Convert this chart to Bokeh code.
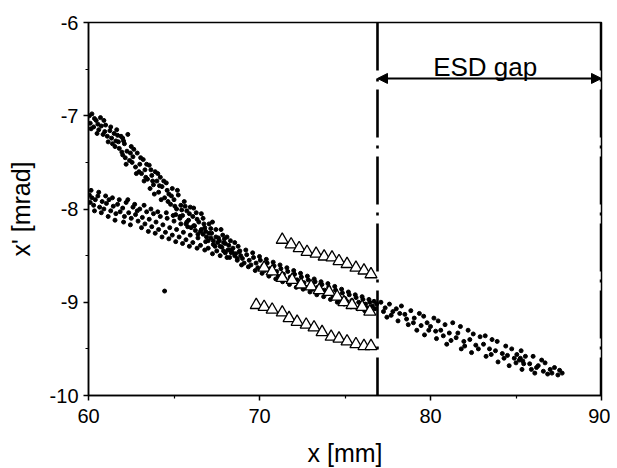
from bokeh.plotting import figure
from bokeh.models import Span, Arrow, NormalHead, Label, FixedTicker, ColumnDataSource
from bokeh.embed import file_html
from bokeh.resources import INLINE

# ---------------- data ----------------
# upper branch of the simulated beam (dots), x [mm], x' [mrad]
upper_band = [
    (60.05, -7.00), (60.1, -7.08), (60.2, -6.98), (60.3, -7.12), (60.45, -7.05),
    (60.6, -7.15), (60.7, -7.02), (60.85, -7.20), (61.0, -7.10), (61.1, -7.22),
    (61.25, -7.16), (61.4, -7.30), (61.5, -7.19), (61.6, -7.27), (61.8, -7.35),
    (61.9, -7.22), (62.0, -7.42), (62.1, -7.30), (62.25, -7.38), (62.4, -7.48),
    (62.5, -7.33), (62.6, -7.44), (62.75, -7.55), (62.85, -7.40), (63.0, -7.52),
    (63.1, -7.62), (63.2, -7.47), (63.3, -7.58), (63.45, -7.68), (63.55, -7.53),
    (63.7, -7.64), (63.8, -7.74), (63.9, -7.60), (64.0, -7.70), (64.1, -7.82),
    (64.2, -7.66), (64.3, -7.76), (64.45, -7.88), (64.55, -7.72), (64.7, -7.84),
    (64.8, -7.95), (64.9, -7.78), (65.0, -7.90), (65.15, -8.00), (65.25, -7.85),
    (65.4, -7.96), (65.5, -8.07), (65.6, -7.92), (65.75, -8.02), (65.85, -8.12),
    (65.95, -7.98), (66.1, -8.08), (66.2, -8.18), (66.3, -8.04), (66.45, -8.14),
    (66.55, -8.24), (66.7, -8.10), (66.8, -8.20), (66.9, -8.30), (67.05, -8.16),
    (67.2, -8.26), (67.3, -8.34), (67.45, -8.22), (67.6, -8.31), (67.7, -8.40),
    (67.85, -8.28), (68.0, -8.37), (68.15, -8.44), (68.3, -8.34), (68.45, -8.42),
    (68.6, -8.48), (68.75, -8.40), (68.9, -8.50), (62.3, -7.20), (61.7, -7.21),
    (62.0, -7.24), (60.15, -7.14), (60.55, -7.09), (60.95, -7.17), (61.35, -7.24),
    (61.75, -7.28), (62.15, -7.45), (62.55, -7.50), (62.95, -7.60), (63.35, -7.66),
    (63.75, -7.70), (64.15, -7.75), (64.6, -7.80), (65.05, -7.97), (65.45, -8.01),
    (65.9, -8.05), (66.35, -8.11), (66.75, -8.16), (67.15, -8.21), (67.55, -8.36),
    (67.95, -8.32), (68.35, -8.47), (68.8, -8.46),
    (60.35, -7.03), (60.5, -7.19), (60.75, -7.11), (60.9, -7.05), (61.15, -7.28),
    (61.3, -7.12), (61.55, -7.33), (61.65, -7.15), (61.95, -7.39), (62.05, -7.27),
    (62.2, -7.52), (62.45, -7.40), (62.65, -7.36), (62.8, -7.62), (63.05, -7.45),
    (63.25, -7.70), (63.4, -7.52), (63.6, -7.78), (63.65, -7.58), (63.85, -7.84),
    (64.05, -7.62), (64.25, -7.90), (64.4, -7.70), (64.65, -7.92), (64.85, -7.86),
    (65.1, -8.06), (65.2, -7.80), (65.35, -8.08), (65.65, -7.97), (65.7, -8.16),
    (66.0, -8.20), (66.15, -7.99), (66.4, -8.27), (66.6, -8.05), (66.85, -8.24),
    (67.0, -8.34), (67.25, -8.14), (67.4, -8.40), (67.75, -8.22), (67.9, -8.45),
    (68.1, -8.30), (68.25, -8.52), (68.55, -8.36), (68.7, -8.53),
]

# lower branch of the simulated beam (dots)
lower_band = [
    (60.05, -7.85), (60.1, -7.93), (60.2, -7.88), (60.3, -7.96), (60.4, -7.90),
    (60.55, -7.86), (60.65, -7.98), (60.8, -7.92), (60.9, -8.00), (61.05, -7.94),
    (61.2, -7.90), (61.3, -8.02), (61.45, -7.97), (61.6, -8.05), (61.7, -7.95),
    (61.85, -8.03), (62.0, -7.99), (62.1, -8.08), (62.2, -7.93), (62.35, -8.04),
    (62.5, -8.10), (62.6, -7.98), (62.75, -8.06), (62.9, -8.13), (63.0, -8.00),
    (63.15, -8.09), (63.3, -8.16), (63.4, -8.03), (63.55, -8.11), (63.7, -8.19),
    (63.8, -8.05), (63.95, -8.14), (64.1, -8.22), (64.2, -8.08), (64.35, -8.17),
    (64.5, -8.25), (64.6, -8.10), (64.75, -8.20), (64.9, -8.28), (65.0, -8.13),
    (65.15, -8.22), (65.3, -8.30), (65.4, -8.16), (65.55, -8.25), (65.7, -8.33),
    (65.8, -8.19), (65.95, -8.28), (66.1, -8.36), (66.25, -8.23), (66.4, -8.31),
    (66.55, -8.39), (66.7, -8.27), (66.85, -8.35), (67.0, -8.42), (67.15, -8.31),
    (67.3, -8.38), (67.5, -8.45), (67.65, -8.34), (67.8, -8.41), (68.0, -8.47),
    (68.2, -8.39), (68.4, -8.46), (64.45, -8.88),
    (60.15, -7.80), (60.35, -8.02), (60.6, -7.82), (60.75, -8.04), (61.0, -7.86),
    (61.15, -8.08), (61.4, -7.88), (61.55, -8.12), (61.8, -7.90), (62.05, -8.14),
    (62.3, -7.90), (62.45, -8.17), (62.7, -7.95), (62.85, -8.02), (63.1, -8.20),
    (63.25, -7.96), (63.5, -8.24), (63.65, -8.00), (63.9, -8.26), (64.05, -8.03),
    (64.3, -8.30), (64.55, -8.04), (64.7, -8.32), (64.95, -8.07), (65.1, -8.35),
    (65.35, -8.10), (65.5, -8.37), (65.75, -8.14), (65.9, -8.40), (66.15, -8.18),
    (66.35, -8.42), (66.6, -8.22), (66.8, -8.44), (67.05, -8.26), (67.25, -8.48),
    (67.45, -8.30), (67.7, -8.50), (67.9, -8.36), (68.1, -8.52), (68.3, -8.44),
]

# merged beam up to the ESD entrance (dots)
merged_band = [
    (68.55, -8.50), (68.7, -8.55), (68.85, -8.45), (69.0, -8.53), (69.1, -8.58),
    (69.25, -8.49), (69.4, -8.55), (69.5, -8.60), (69.65, -8.52), (69.8, -8.58),
    (69.9, -8.63), (70.05, -8.55), (70.2, -8.61), (70.3, -8.66), (70.45, -8.58),
    (70.6, -8.64), (70.7, -8.69), (70.85, -8.61), (71.0, -8.67), (71.1, -8.72),
    (71.25, -8.64), (71.4, -8.70), (71.5, -8.75), (71.65, -8.67), (71.8, -8.73),
    (71.9, -8.78), (72.05, -8.70), (72.2, -8.76), (72.3, -8.81), (72.45, -8.73),
    (72.6, -8.79), (72.7, -8.84), (72.85, -8.76), (73.0, -8.82), (73.1, -8.86),
    (73.25, -8.78), (73.4, -8.84), (73.5, -8.89), (73.65, -8.81), (73.8, -8.87),
    (73.9, -8.91), (74.05, -8.84), (74.2, -8.90), (74.3, -8.94), (74.45, -8.87),
    (74.6, -8.93), (74.7, -8.97), (74.85, -8.90), (75.0, -8.96), (75.1, -8.99),
    (75.25, -8.92), (75.4, -8.98), (75.5, -9.02), (75.65, -8.95), (75.8, -9.00),
    (75.9, -9.04), (76.05, -8.97), (76.2, -9.02), (76.3, -9.06), (76.45, -9.00),
    (76.6, -9.04), (76.75, -9.07), (76.85, -9.02),
    (68.95, -8.60), (69.2, -8.44), (69.35, -8.62), (69.6, -8.47), (69.75, -8.66),
    (70.0, -8.51), (70.15, -8.69), (70.4, -8.54), (70.55, -8.72), (70.8, -8.57),
    (70.95, -8.75), (71.2, -8.60), (71.35, -8.78), (71.6, -8.63), (71.75, -8.81),
    (72.0, -8.66), (72.15, -8.84), (72.4, -8.69), (72.55, -8.86), (72.8, -8.72),
    (72.95, -8.89), (73.2, -8.75), (73.35, -8.92), (73.6, -8.78), (73.75, -8.94),
    (74.0, -8.80), (74.15, -8.97), (74.4, -8.83), (74.55, -9.00), (74.8, -8.86),
    (74.95, -9.02), (75.2, -8.89), (75.35, -9.05), (75.6, -8.92), (75.75, -9.07),
    (76.0, -8.94), (76.15, -9.09), (76.4, -8.97), (76.55, -9.10), (76.7, -8.99),
]

# beam inside the ESD gap (dots)
gap_band = [
    (77.1, -9.00), (77.35, -9.06), (77.45, -9.16), (77.6, -9.02), (77.8, -9.10),
    (78.0, -9.07), (78.1, -9.20), (78.3, -9.04), (78.5, -9.13), (78.7, -9.24),
    (78.85, -9.09), (79.05, -9.17), (79.2, -9.30), (79.35, -9.12), (79.6, -9.15),
    (79.65, -9.35), (79.8, -9.22), (80.0, -9.26), (80.2, -9.17), (80.35, -9.39),
    (80.45, -9.20), (80.6, -9.30), (80.85, -9.24), (80.95, -9.45), (81.1, -9.33),
    (81.3, -9.22), (81.5, -9.38), (81.75, -9.26), (81.8, -9.50), (81.95, -9.42),
    (82.2, -9.30), (82.4, -9.54), (82.5, -9.34), (82.65, -9.46), (82.9, -9.37),
    (83.2, -9.36), (83.25, -9.58), (83.45, -9.50), (83.6, -9.40), (83.9, -9.42),
    (83.95, -9.64), (84.2, -9.55), (84.4, -9.47), (84.6, -9.68), (84.75, -9.50),
    (84.9, -9.60), (85.05, -9.56), (85.2, -9.62), (85.3, -9.52), (85.35, -9.72),
    (85.55, -9.58), (85.8, -9.66), (86.0, -9.58), (86.1, -9.76), (86.3, -9.68),
    (86.5, -9.62), (86.7, -9.65), (86.85, -9.77), (87.0, -9.72), (87.25, -9.70),
    (87.45, -9.78), (87.7, -9.76),
    (77.25, -9.10), (77.7, -9.14), (78.2, -9.12), (78.6, -9.18), (79.0, -9.22),
    (79.45, -9.25), (79.9, -9.30), (80.3, -9.31), (80.75, -9.36), (81.2, -9.41),
    (81.6, -9.33), (82.0, -9.47), (82.3, -9.40), (82.8, -9.50), (83.1, -9.45),
    (83.55, -9.56), (83.8, -9.52), (84.3, -9.60), (84.5, -9.57), (85.0, -9.65),
    (85.45, -9.66), (85.9, -9.72), (86.2, -9.70), (86.6, -9.74), (87.1, -9.76),
    (87.55, -9.73), (85.25, -9.60), (85.4, -9.63),
]

# measured beam (triangles), three rows
tri_upper_x = [71.33, 71.85, 72.32, 72.78, 73.31, 73.78, 74.24, 74.65, 75.12, 75.64, 76.11, 76.52]
tri_upper_y = [-8.33, -8.38, -8.42, -8.46, -8.48, -8.51, -8.52, -8.56, -8.59, -8.63, -8.66, -8.70]
tri_mid_x = [70.27, 70.74, 71.33, 71.91, 72.43, 73.02, 73.49, 74.07, 74.54, 74.94, 75.41, 76.0, 76.45]
tri_mid_y = [-8.63, -8.67, -8.74, -8.76, -8.81, -8.83, -8.87, -8.89, -8.94, -9.00, -9.03, -9.05, -9.10]
tri_low_x = [69.81, 70.27, 70.74, 71.33, 71.73, 72.2, 72.73, 73.19, 73.66, 74.19, 74.65, 75.12, 75.64, 76.11, 76.52]
tri_low_y = [-9.03, -9.05, -9.08, -9.11, -9.17, -9.21, -9.24, -9.27, -9.32, -9.37, -9.39, -9.42, -9.45, -9.47, -9.47]

esd_entrance = 76.9
esd_exit = 90.0
arrow_level = -6.6
esd_text = "ESD gap"
esd_text_x = 83.2
esd_text_y = -6.48

x_ticks = [60, 70, 80, 90]
x_minor = [65, 75, 85]
y_ticks = [-10, -9, -8, -7, -6]
y_minor = [-9.5, -8.5, -7.5, -6.5]
x_tick_labels = ["60", "70", "80", "90"]
y_tick_labels = ["-10", "-9", "-8", "-7", "-6"]
x_title = "x [mm]"
y_title = "x' [mrad]"

# ---------------- figure ----------------
FONT = "Liberation Sans"

p = figure(width=610, height=466, output_backend="svg", toolbar_location=None,
           x_range=(60, 90), y_range=(-10, -6),
           min_border_left=88, min_border_right=9, min_border_top=22, min_border_bottom=71)
p.frame_width = 513
p.frame_height = 373
p.grid.visible = False
p.background_fill_color = "white"
p.border_fill_color = "white"
p.outline_line_color = "black"
p.outline_line_width = 1.5

for ax, ticks, minor, labels in ((p.xaxis, x_ticks, x_minor, x_tick_labels),
                                  (p.yaxis, y_ticks, y_minor, y_tick_labels)):
    ax.ticker = FixedTicker(ticks=ticks, minor_ticks=minor)
    ax.major_label_overrides = {t: l for t, l in zip(ticks, labels)}
    ax.axis_line_color = "black"
    ax.axis_line_width = 1.5
    ax.major_tick_line_color = "black"
    ax.major_tick_line_width = 1.5
    ax.minor_tick_line_color = "black"
    ax.minor_tick_line_width = 1.2
    ax.major_tick_out = 5
    ax.major_tick_in = 0
    ax.minor_tick_out = 3
    ax.minor_tick_in = 0
    ax.major_label_text_font = FONT
    ax.major_label_text_font_size = "20px"
    ax.major_label_text_color = "black"
    ax.axis_label_text_font = FONT
    ax.axis_label_text_font_size = "25px"
    ax.axis_label_text_font_style = "normal"
    ax.axis_label_text_color = "black"

p.xaxis.major_label_standoff = 8
p.yaxis.major_label_standoff = 5
p.xaxis.axis_label = x_title
p.xaxis.axis_label_standoff = 13
p.yaxis.axis_label = y_title
p.yaxis.axis_label_standoff = 12

# dots
for band in (upper_band, lower_band, merged_band, gap_band):
    src = ColumnDataSource(dict(x=[b[0] for b in band], y=[b[1] for b in band]))
    p.scatter("x", "y", source=src, size=4, color="black", marker="circle")

# triangles
for tx, ty in ((tri_upper_x, tri_upper_y), (tri_mid_x, tri_mid_y), (tri_low_x, tri_low_y)):
    p.scatter(tx, ty, marker="triangle", size=12, fill_color="white",
              line_color="black", line_width=1.3)

# ESD gap boundaries
for loc, lw in ((esd_entrance, 2.6), (esd_exit, 3.5)):
    p.add_layout(Span(location=loc, dimension="height", line_color="black",
                      line_width=lw, line_dash="48 8 3 8"))

p.add_layout(Arrow(start=NormalHead(size=10, fill_color="black", line_color="black"),
                   end=NormalHead(size=10, fill_color="black", line_color="black"),
                   x_start=esd_entrance, x_end=esd_exit, y_start=arrow_level, y_end=arrow_level,
                   line_width=2, line_color="black"))

p.add_layout(Label(x=esd_text_x, y=esd_text_y, text=esd_text, text_align="center",
                   text_baseline="alphabetic", text_font=FONT, text_font_size="26px",
                   text_color="black"))

open("out.html", "w").write(file_html(p, INLINE))
